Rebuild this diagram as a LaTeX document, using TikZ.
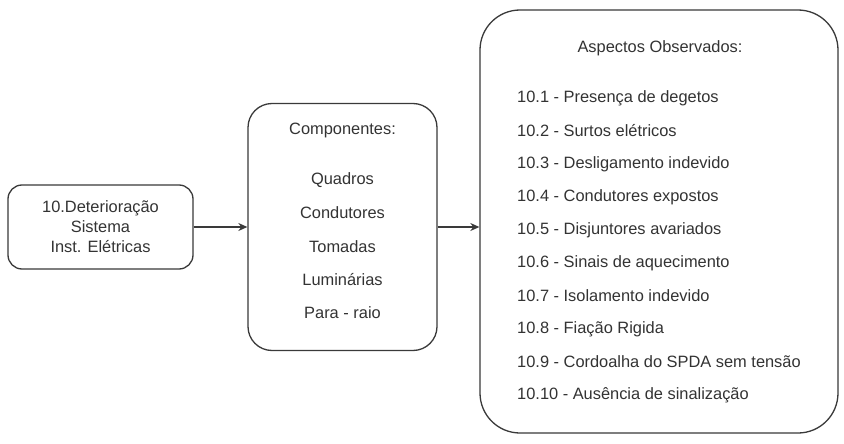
\documentclass[tikz,border=0pt]{standalone}
\usepackage{fontspec}
\setmainfont{Liberation Sans}
\usetikzlibrary{arrows.meta}
\definecolor{txt}{HTML}{333333}
\definecolor{edge}{HTML}{3A3A3A}
\begin{document}
\begin{tikzpicture}[x=1pt,y=-1pt,
  box/.style={draw=edge,line width=1.3pt,rectangle,inner sep=0pt},
  lbl/.style={text=txt,font=\fontsize{16.4}{20}\selectfont,inner sep=0pt,align=center},
  item/.style={lbl,anchor=west},
  conn/.style={draw=edge,line width=1.2pt,-{Stealth[length=9pt,width=8pt]}}]
\useasboundingbox[fill=white] (0,0) rectangle (844,444);
\node[box,rounded corners=14pt,minimum width=185pt,minimum height=84pt] (b1) at (100.5,227) {};
\node[lbl] (t1) at (b1.center) {10.Deterioração\\Sistema\\Inst. Elétricas};
\node[box,rounded corners=24pt,minimum width=189pt,minimum height=247pt] (b2) at (342.5,227) {};
\node[lbl] (c0) at (342.5,130) {Componentes:};
\node[lbl] (c1) at (342.5,180) {Quadros};
\node[lbl] (c2) at (342.5,213) {Condutores};
\node[lbl] (c3) at (342.5,247) {Tomadas};
\node[lbl] (c4) at (342.5,280) {Luminárias};
\node[lbl] (c5) at (342.5,313) {Para - raio};
\node[box,rounded corners=40pt,minimum width=358pt,minimum height=423pt] (b3) at (659,221.5) {};
\node[lbl] (a0) at (660,48) {Aspectos Observados:};
\node[item] (a1) at (517,98) {10.1 - Presença de degetos};
\node[item] (a2) at (517,131) {10.2 - Surtos elétricos};
\node[item] (a3) at (517,164) {10.3 - Desligamento indevido};
\node[item] (a4) at (517,197) {10.4 - Condutores expostos};
\node[item] (a5) at (517,230) {10.5 - Disjuntores avariados};
\node[item] (a6) at (517,263) {10.6 - Sinais de aquecimento};
\node[item] (a7) at (517,296) {10.7 - Isolamento indevido};
\node[item] (a8) at (517,329) {10.8 - Fiação Rigida};
\node[item] (a9) at (517,362) {10.9 - Cordoalha do SPDA sem tensão};
\node[item] (a10) at (517,395) {10.10 - Ausência de sinalização};
\draw[conn] (b1.east) -- (b2.west);
\draw[conn] (b2.east) -- (b2.east -| b3.west);
\end{tikzpicture}
\end{document}
